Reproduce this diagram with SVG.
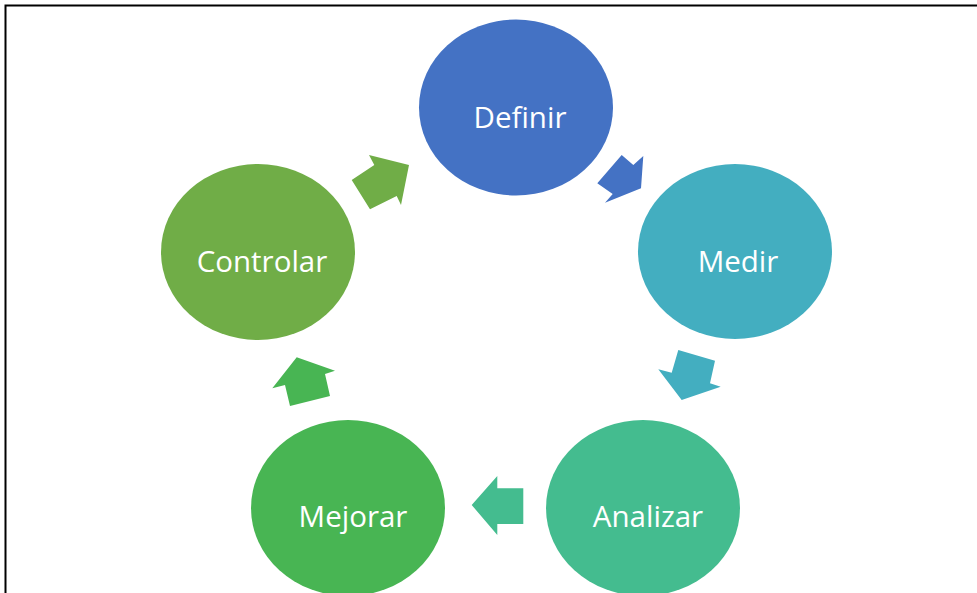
<svg xmlns="http://www.w3.org/2000/svg" width="977" height="593" viewBox="0 0 977 593">
<style>
.lbl{font-family:"Open Sans","Noto Sans","Liberation Sans",sans-serif;font-size:29.5px;fill:#ffffff;text-anchor:middle}
</style>
<rect width="977" height="593" fill="#ffffff"/>
<g id="frame">
<path d="M5.5 593 V5.5 H977" fill="none" stroke="#000" stroke-width="2"/>
</g>
<g id="connectors">
<polygon points="597.3,183.3 621.7,155 633.3,165 643.3,156 641,188.3 605,202.7 612.7,194" fill="#4472C4"/>
<polygon points="678.3,350 715,360.7 710,383.3 720.7,386.7 681.7,400 658.3,369.3 671.7,372.7" fill="#43AEC0"/>
<polygon points="523.3,488.3 523.3,524 497.3,524 497.3,535 471.7,505 497.3,476 497.3,488.3" fill="#44BC8F"/>
<polygon points="290,406 330,396 325,374 335,370.7 296.7,357.3 272.3,388.3 285,385" fill="#48B553"/>
<polygon points="351.7,180 370,209.3 396.7,196 401,205 409,165 369,155 374.3,165" fill="#70AD47"/>
</g>
<g id="definir">
<ellipse cx="516" cy="107.5" rx="97" ry="88" fill="#4472C4"/>
<text class="lbl" x="520" y="128">Definir</text>
</g>
<g id="medir">
<ellipse cx="735" cy="251.5" rx="97" ry="87.5" fill="#43AEC0"/>
<text class="lbl" x="738" y="272">Medir</text>
</g>
<g id="analizar">
<ellipse cx="643" cy="508" rx="97" ry="88" fill="#44BC8F"/>
<text class="lbl" x="648" y="527">Analizar</text>
</g>
<g id="mejorar">
<ellipse cx="348" cy="508" rx="97" ry="88" fill="#48B553"/>
<text class="lbl" x="353" y="527">Mejorar</text>
</g>
<g id="controlar">
<ellipse cx="258" cy="252" rx="97" ry="88" fill="#70AD47"/>
<text class="lbl" x="262" y="272">Controlar</text>
</g>
</svg>
